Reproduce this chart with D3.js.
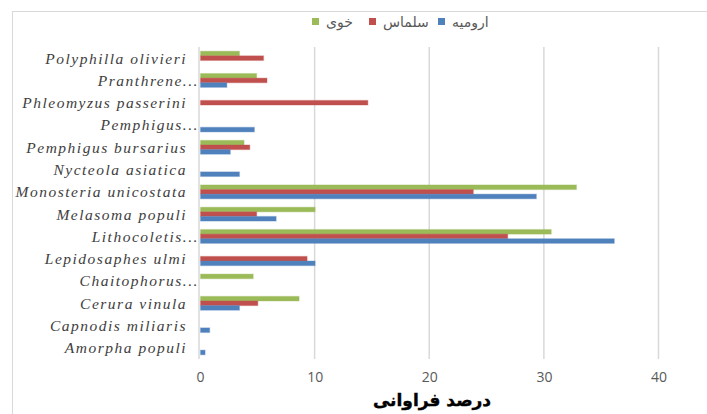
<!DOCTYPE html>
<html>
<head>
<meta charset="utf-8">
<script src="https://cdn.jsdelivr.net/npm/d3@7"></script>
<style>
  body { margin: 0; background: #fff; }
  svg { display: block; }
</style>
</head>
<body>
<svg id="chart" width="707" height="414"></svg>
<script>
// categories from top to bottom, as shown
var categories = ["Polyphilla olivieri", "Pranthrene...", "Phleomyzus passerini", "Pemphigus...",
    "Pemphigus bursarius", "Nycteola asiatica", "Monosteria unicostata", "Melasoma populi",
    "Lithocoletis...", "Lepidosaphes ulmi", "Chaitophorus...", "Cerura vinula",
    "Capnodis miliaris", "Amorpha populi"];

var urmia  = [0, 2.3, 0, 4.7, 2.6, 3.4, 29.3, 6.6, 36.1, 10.0, 0, 3.4, 0.8, 0.4];
var salmas = [5.5, 5.8, 14.6, 0, 4.3, 0, 23.8, 4.9, 26.8, 9.3, 0, 5.0, 0, 0];
var khoy   = [3.4, 4.9, 0, 0, 3.8, 0, 32.8, 10.0, 30.6, 0, 4.6, 8.6, 0, 0];

var seriesNames = ["خوی", "سلماس", "ارومیه"];
var xTicks = [0, 10, 20, 30, 40];
var axisTitle = "درصد فراوانی";

var colors = { "خوی": "#9bbb59", "سلماس": "#c0504d", "ارومیه": "#4f81bd" };
var values = { "خوی": khoy, "سلماس": salmas, "ارومیه": urmia };

var svg = d3.select("#chart");

// outer frame
svg.append("rect")
    .attr("x", 12.5).attr("y", 11.5)
    .attr("width", 760).attr("height", 440)
    .attr("fill", "none")
    .attr("stroke", "#d9d9d9");

var x = d3.scaleLinear().domain([0, 40]).range([200, 658.5]);
var y = d3.scaleBand().domain(categories).range([47, 359])
    .paddingInner(0.38).paddingOuter(0.19);
var ySub = d3.scaleBand().domain(seriesNames).range([0, y.bandwidth()]);

// gridlines
svg.append("g")
    .selectAll("line")
    .data(xTicks.filter(function(d) { return d > 0; }))
    .enter().append("line")
    .attr("x1", function(d) { return x(d); })
    .attr("x2", function(d) { return x(d); })
    .attr("y1", 47).attr("y2", 359)
    .attr("stroke", "#d9d9d9")
    .attr("stroke-width", 1.5);

// bars
var groups = svg.append("g")
    .selectAll("g")
    .data(categories)
    .enter().append("g")
    .attr("transform", function(d) { return "translate(0," + y(d) + ")"; });

groups.selectAll("rect")
    .data(function(d, i) {
        return seriesNames.map(function(s) { return { series: s, value: values[s][i] }; });
    })
    .enter().append("rect")
    .filter(function(d) { return d.value > 0; })
    .attr("x", x(0) + 0.5)
    .attr("y", function(d) { return ySub(d.series); })
    .attr("width", function(d) { return x(d.value) - x(0); })
    .attr("height", ySub.bandwidth())
    .attr("fill", function(d) { return colors[d.series]; })
    .attr("stroke", function(d) { return colors[d.series]; })
    .attr("stroke-opacity", 0.3)
    .attr("stroke-width", 1.2);

// y axis line
svg.append("line")
    .attr("x1", 199).attr("x2", 199)
    .attr("y1", 47).attr("y2", 359)
    .attr("stroke", "#d9d9d9")
    .attr("stroke-width", 1.5);

// category labels
svg.append("g")
    .selectAll("text")
    .data(categories)
    .enter().append("text")
    .attr("x", function(d) { return /\.\.\.$/.test(d) ? 199 : 187; })
    .attr("y", function(d) { return y(d) + y.bandwidth() / 2; })
    .attr("dy", "0.35em")
    .attr("text-anchor", "end")
    .attr("font-family", "'Liberation Serif', 'DejaVu Serif', serif")
    .attr("font-style", "italic")
    .attr("font-size", 15.5)
    .attr("letter-spacing", 1.5)
    .attr("fill", "#404040")
    .text(function(d) { return d; });

// x tick labels
var xAxis = svg.append("g")
    .attr("transform", "translate(0,359)")
    .call(d3.axisBottom(x).tickValues(xTicks).tickSize(0).tickPadding(13));
xAxis.select(".domain").remove();
xAxis.selectAll("text")
    .attr("font-family", "'Open Sans', 'Liberation Sans', sans-serif")
    .attr("font-size", 14)
    .attr("fill", "#595959");

// axis title
svg.append("text")
    .attr("x", 432).attr("y", 406)
    .attr("text-anchor", "middle")
    .attr("font-family", "'DejaVu Sans', sans-serif")
    .attr("font-weight", "bold")
    .attr("font-size", 17)
    .attr("stroke", "#000")
    .attr("stroke-width", 0.4)
    .attr("fill", "#000")
    .text(axisTitle);

// legend
var legendX = [312, 369, 438];
var legend = svg.append("g")
    .selectAll("g")
    .data(seriesNames)
    .enter().append("g")
    .attr("transform", function(d, i) { return "translate(" + legendX[i] + ",18)"; });
legend.append("rect")
    .attr("width", 7).attr("height", 7)
    .attr("fill", function(d) { return colors[d]; });
legend.append("text")
    .attr("x", 14).attr("y", 4)
    .attr("dy", "0.35em")
    .attr("font-family", "'DejaVu Sans', sans-serif")
    .attr("font-size", 14)
    .attr("fill", "#595959")
    .text(function(d) { return d; });
</script>
</body>
</html>
